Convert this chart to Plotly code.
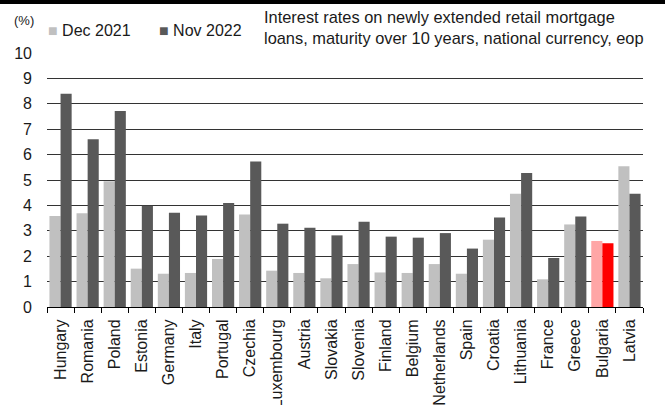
import plotly.graph_objects as go

countries = ["Hungary", "Romania", "Poland", "Estonia", "Germany", "Italy", "Portugal",
             "Czechia", "Luxembourg", "Austria", "Slovakia", "Slovenia", "Finland",
             "Belgium", "Netherlands", "Spain", "Croatia", "Lithuania", "France",
             "Greece", "Bulgaria", "Latvia"]
dec_2021 = [3.58, 3.69, 4.95, 1.51, 1.31, 1.34, 1.89, 3.64, 1.43, 1.34, 1.13, 1.69,
            1.36, 1.34, 1.69, 1.31, 2.65, 4.46, 1.09, 3.25, 2.60, 5.54]
nov_2022 = [8.40, 6.60, 7.72, 3.99, 3.71, 3.60, 4.09, 5.73, 3.28, 3.12, 2.82, 3.36,
            2.77, 2.73, 2.91, 2.30, 3.52, 5.28, 1.93, 3.56, 2.51, 4.46]
series_names = ["Dec 2021", "Nov 2022"]
y_ticks = [0, 1, 2, 3, 4, 5, 6, 7, 8, 9, 10]
highlight = "Bulgaria"

FONT = "Liberation Sans, Arial, sans-serif"
LIGHT, DARK = "#c0c0c0", "#595959"
light_cols = ["#ffa6a6" if c == highlight else LIGHT for c in countries]
dark_cols = ["#ff0000" if c == highlight else DARK for c in countries]

fig = go.Figure()
fig.add_trace(go.Bar(x=countries, y=dec_2021, name=series_names[0], showlegend=False,
                     marker=dict(color=light_cols, line=dict(width=0))))
fig.add_trace(go.Bar(x=countries, y=nov_2022, name=series_names[1], showlegend=False,
                     marker=dict(color=dark_cols, line=dict(width=0))))

PW, PH, L, T = 596, 254, 47, 53


def px(x):
    return (x - L) / PW


def py(y):
    return (T + PH - y) / PH


fig.update_layout(
    width=665, height=405,
    margin=dict(l=L, r=665 - L - PW, t=T, b=405 - T - PH, pad=0),
    paper_bgcolor="white", plot_bgcolor="white",
    font=dict(family=FONT, size=16, color="#1a1a1a"),
    barmode="group", bargap=0.18, bargroupgap=0.0,
    xaxis=dict(type="category", tickangle=-90, ticks="outside", tickson="boundaries",
               ticklen=5, tickcolor="#000", showline=True, linecolor="#000", linewidth=1,
               showgrid=False, ticklabelstandoff=5, automargin=False,
               tickfont=dict(size=16, family=FONT), fixedrange=True),
    yaxis=dict(range=[0, 10], tickvals=y_ticks, showgrid=True, gridcolor="#333333",
               gridwidth=1, zeroline=False, showline=False, ticks="", automargin=False,
               ticklabelstandoff=14, tickfont=dict(size=16, family=FONT), fixedrange=True),
    shapes=[dict(type="rect", xref="paper", yref="paper", x0=-0.1, x1=1.1,
                 y0=py(4), y1=py(-5), fillcolor="#000",
                 line=dict(width=0), layer="above")],
    annotations=[
        dict(text="(%)", xref="paper", yref="paper", x=px(24), y=py(20),
             xanchor="center", yanchor="middle", showarrow=False,
             font=dict(size=13, family=FONT)),
        dict(text=f"<span style='color:{LIGHT}'>■</span> {series_names[0]}",
             xref="paper", yref="paper", x=px(46), y=py(31),
             xanchor="left", yanchor="middle", showarrow=False,
             font=dict(size=16, family=FONT)),
        dict(text=f"<span style='color:{DARK}'>■</span> {series_names[1]}",
             xref="paper", yref="paper", x=px(157), y=py(31),
             xanchor="left", yanchor="middle", showarrow=False,
             font=dict(size=16, family=FONT)),
        dict(text="Interest rates on newly extended retail mortgage<br>loans, maturity over 10 years, national currency, eop",
             xref="paper", yref="paper", x=px(262), y=py(28),
             xanchor="left", yanchor="middle", align="left", showarrow=False,
             font=dict(size=16.4, family=FONT)),
    ],
)
fig.write_html("out.html")
